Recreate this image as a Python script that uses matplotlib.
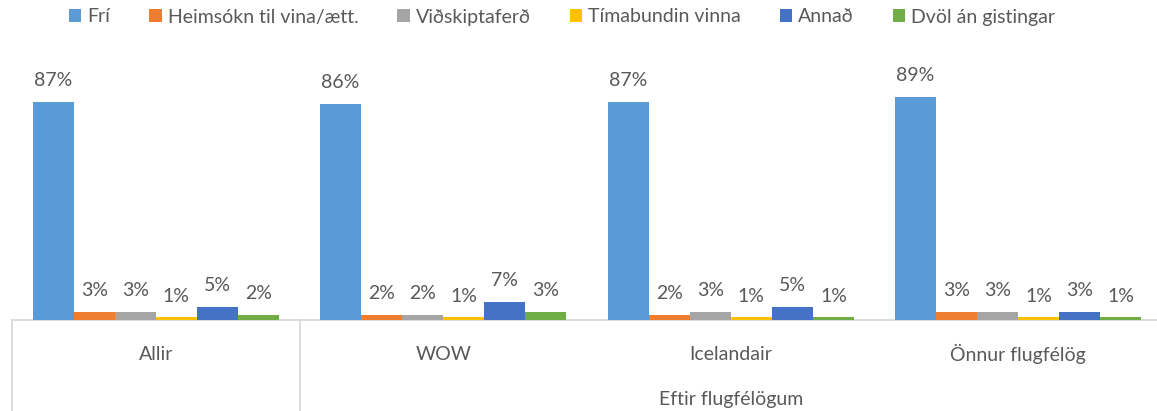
import matplotlib
matplotlib.use("Agg")
import matplotlib.pyplot as plt
import matplotlib.transforms as mtransforms
from matplotlib.patches import Patch
import numpy as np

plt.rcParams['font.family'] = ['Lato', 'DejaVu Sans']

categories = ["Allir", "WOW", "Icelandair", "Önnur flugfélög"]
group_label = "Eftir flugfélögum"
series_names = ["Frí", "Heimsókn til vina/ætt.", "Viðskiptaferð",
                "Tímabundin vinna", "Annað", "Dvöl án gistingar"]
fri = [87, 86, 87, 89]
heimsokn = [3, 2, 2, 3]
vidskipti = [3, 2, 3, 3]
timabundin = [1, 1, 1, 1]
annad = [5, 7, 5, 3]
dvol = [2, 3, 1, 1]
series = [fri, heimsokn, vidskipti, timabundin, annad, dvol]
colors = ["#5B9BD5", "#ED7D31", "#A5A5A5", "#FFC000", "#4472C4", "#70AD47"]

W, H = 1157, 411
fig = plt.figure(figsize=(W / 100, H / 100), dpi=100)
ax = fig.add_axes([12 / W, (H - 320) / H, 1150 / W, 261 / H])

bw = 1 / 7
x = np.arange(len(categories))
txt = "#595959"
for i, (vals, c) in enumerate(zip(series, colors)):
    pos = x - 3 * bw + bw / 2 + i * bw
    bars = ax.bar(pos, vals, width=bw, color=c, linewidth=0, zorder=3)
    for b, v in zip(bars, vals):
        ax.annotate(f"{v}%", (b.get_x() + b.get_width() / 2, b.get_height()),
                    xytext=(0, 11.5), textcoords="offset points",
                    ha="center", va="baseline", fontsize=14, color=txt)

ax.set_xlim(-0.5, 3.5)
ax.set_ylim(0, 104)
for s in ["top", "right", "left"]:
    ax.spines[s].set_visible(False)
ax.spines["bottom"].set_color("#D9D9D9")
ax.spines["bottom"].set_linewidth(1.3)
ax.spines["bottom"].set_zorder(1)
ax.set_yticks([])
ax.set_xticks([])

trans = mtransforms.blended_transform_factory(ax.transData, ax.transAxes)
for xs in [-0.5, 0.5]:
    ax.plot([xs, xs], [0, -0.5], transform=trans, color="#D9D9D9", lw=1.3, clip_on=False)

for xi, cat in zip(x, categories):
    ax.text(xi, -34 / 261, cat, transform=trans, ha="center", va="center",
            fontsize=14, color=txt)
ax.text(2.0, -79 / 261, group_label, transform=trans, ha="center", va="center",
        fontsize=14, color=txt)

handles = [Patch(facecolor=c, edgecolor="none") for c in colors]
fig.legend(handles, series_names, loc="center", bbox_to_anchor=(562 / W, 1 - 17 / H),
           ncol=6, frameon=False, fontsize=14, handlelength=0.65, handleheight=0.65,
           handletextpad=0.3, columnspacing=2.0, labelcolor=txt)

fig.savefig("out.png", dpi=100)
